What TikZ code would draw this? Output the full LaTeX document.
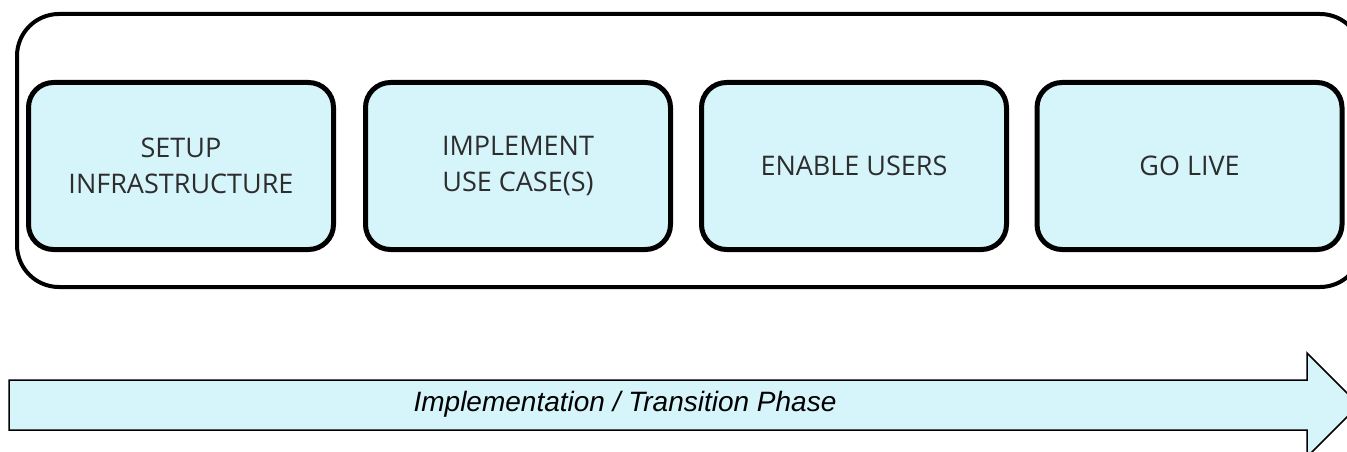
\documentclass[tikz,border=0pt]{standalone}
\usepackage{fontspec}
\setmainfont{Open Sans}
\newfontfamily\phasefont{Liberation Sans}
\definecolor{stepfill}{RGB}{214,245,250}
\definecolor{steptext}{RGB}{45,45,45}
\begin{document}
\begin{tikzpicture}[x=1pt,y=-1pt,
  stepbox/.style={draw=black, line width=5pt, fill=stepfill, rounded corners=25pt,
    minimum width=305pt, minimum height=167pt, inner sep=0pt, align=center,
    text=steptext, font=\fontsize{27}{36}\selectfont},
  frame/.style={draw=black, line width=4pt, rounded corners=42pt},
  phasearrow/.style={draw=black, line width=1.5pt, fill=stepfill, line join=miter}]
\useasboundingbox (0,0) rectangle (1347,452);

% outer container (right edge runs off the page)
\node[frame, minimum width=1345pt, minimum height=273pt, inner sep=0pt,
  anchor=north west] (frame) at (15,12) {};

% the four steps
\node[stepbox] (setup)  at (181,166)  {SETUP\\INFRASTRUCTURE};
\node[stepbox] (impl)   at (518,166)  {IMPLEMENT\\USE CASE(S)};
\node[stepbox] (enable) at (854,166)  {ENABLE USERS};
\node[stepbox] (golive) at (1189.5,166) {GO LIVE};

% phase arrow
\draw[phasearrow] (9,380) -- (1307,380) -- (1307,353) -- (1359,405)
  -- (1307,457) -- (1307,430) -- (9,430) -- cycle;
\node[font=\phasefont\itshape\fontsize{28}{32}\selectfont, text=black]
  (phase) at (625,404) {Implementation / Transition Phase};
\end{tikzpicture}
\end{document}
